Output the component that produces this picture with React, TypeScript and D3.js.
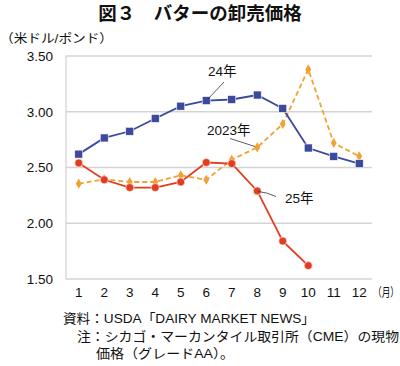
import React from 'react';
import * as d3 from 'd3';

const months = ['1', '2', '3', '4', '5', '6', '7', '8', '9', '10', '11', '12'];
const yTicks = [1.5, 2.0, 2.5, 3.0, 3.5];

// 24年 (blue squares)
const y2024 = [2.62, 2.765, 2.825, 2.94, 3.05, 3.1, 3.11, 3.15, 3.03, 2.675, 2.6, 2.535];
// 2023年 (orange diamonds, dashed)
const y2023 = [2.355, 2.395, 2.37, 2.37, 2.43, 2.39, 2.57, 2.68, 2.89, 3.38, 2.72, 2.6];
// 25年 (red circles)
const y2025 = [2.54, 2.39, 2.32, 2.32, 2.37, 2.545, 2.535, 2.29, 1.84, 1.62];

const FONT = "'Liberation Sans', 'Noto Sans CJK JP', sans-serif";
const BLUE = '#3b4a9c';
const ORANGE = '#f2a235';
const RED = '#e23d1f';

export default function App() {
  const width = 400;
  const height = 366;
  const margin = { left: 66, right: 28, top: 56, bottom: 87 };

  const x = d3.scaleBand().domain(months).range([margin.left, width - margin.right]);
  const y = d3.scaleLinear().domain([1.5, 3.5]).range([height - margin.bottom, margin.top]);
  const cx = (i: number) => (x(months[i]) as number) + x.bandwidth() / 2;

  const line = d3.line<number>().x((_, i) => cx(i)).y(d => y(d));

  const diamond = d3.symbol().type(d3.symbolDiamond).size(30)() as string;

  return (
    <svg width={width} height={height} style={{ position: 'absolute', left: 0, top: 0, fontFamily: FONT }}>
      <rect width={width} height={height} fill="#fff" />
      <text x={200} y={20} textAnchor="middle" fontSize={18.5} fontWeight="bold" fill="#111"
        fontFamily="'Noto Sans CJK JP', sans-serif">
        図３　バターの卸売価格
      </text>
      <text x={0} y={43} fontSize={12.5} fill="#111" textLength={113} lengthAdjust="spacingAndGlyphs">（米ドル/ポンド）</text>

      {/* grid */}
      {yTicks.map(t => (
        <g key={t}>
          <line x1={margin.left} x2={width - margin.right} y1={y(t)} y2={y(t)} stroke="#d4d4d4" strokeWidth={1.3} />
          <text x={53} y={y(t)} dy="0.36em" textAnchor="end" fontSize={13.5} fill="#111">
            {t.toFixed(2)}
          </text>
        </g>
      ))}
      <line x1={margin.left} x2={margin.left} y1={y(3.5)} y2={y(1.5)} stroke="#d4d4d4" strokeWidth={1.3} />

      {months.map((m, i) => (
        <text key={m} x={cx(i)} y={297} textAnchor="middle" fontSize={13.5} fill="#111">{m}</text>
      ))}
      <text x={373} y={297} fontSize={12} fill="#111" textLength={26} lengthAdjust="spacingAndGlyphs">（月）</text>

      {/* 2023 */}
      <path d={line(y2023) as string} fill="none" stroke={ORANGE} strokeWidth={1.8} strokeDasharray="5,3" />
      {y2023.map((v, i) => (
        <path key={i} d={diamond} transform={`translate(${cx(i)},${y(v)})`} fill={ORANGE} />
      ))}

      {/* 2024 */}
      <path d={line(y2024) as string} fill="none" stroke={BLUE} strokeWidth={1.8} />
      {y2024.map((v, i) => (
        <rect key={i} x={cx(i) - 4} y={y(v) - 4} width={8} height={8} fill={BLUE} stroke="#fff" strokeWidth={0.6} />
      ))}

      {/* 2025 */}
      <path d={line(y2025) as string} fill="none" stroke={RED} strokeWidth={1.8} />
      {y2025.map((v, i) => (
        <circle key={i} cx={cx(i)} cy={y(v)} r={4} fill={RED} stroke="#fff" strokeWidth={0.6} />
      ))}

      {/* annotations */}
      <text x={208} y={76} fontSize={13.5} fill="#111">24年</text>
      <line x1={224} y1={82} x2={208} y2={99} stroke="#333" strokeWidth={0.8} />
      <text x={207} y={135} fontSize={13.5} fill="#111">2023年</text>
      <line x1={230} y1={138.5} x2={255} y2={146.5} stroke="#333" strokeWidth={0.8} />
      <text x={285} y={203} fontSize={13.5} fill="#111">25年</text>
      <path d="M258,191.5 Q266,192 276,196.5" fill="none" stroke="#333" strokeWidth={0.8} />

      {/* notes */}
      <text x={63} y={323} fontSize={13} fill="#111" textLength={252} lengthAdjust="spacingAndGlyphs">資料：USDA「DAIRY MARKET NEWS」</text>
      <text x={77} y={341} fontSize={13} fill="#111" textLength={322} lengthAdjust="spacingAndGlyphs">注：シカゴ・マーカンタイル取引所（CME）の現物</text>
      <text x={96} y={358} fontSize={13} fill="#111" textLength={138} lengthAdjust="spacingAndGlyphs">価格（グレードAA）。</text>
    </svg>
  );
}
